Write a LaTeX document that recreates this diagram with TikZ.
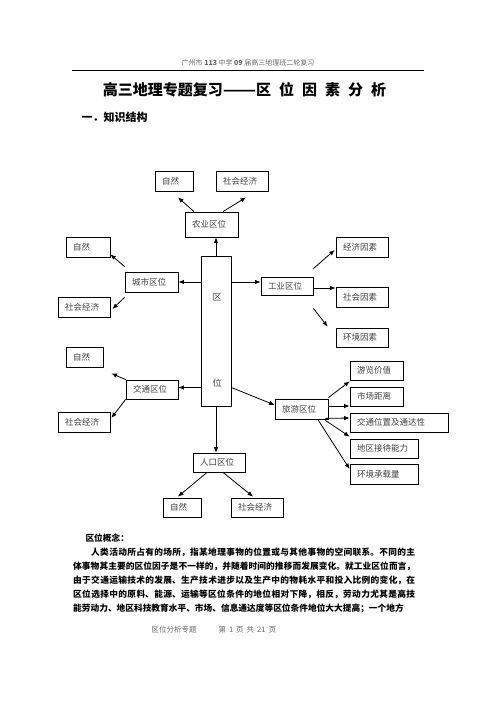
\documentclass[tikz,border=0pt]{standalone}
\usepackage{fontspec}
\setmainfont{Noto Sans CJK SC}
\usetikzlibrary{arrows.meta}

\begin{document}
\begin{tikzpicture}[x=1pt,y=-1pt,>={Latex[length=5.5pt,width=4.5pt]},
  box/.style={draw,line width=0.8pt,inner ysep=0pt,inner xsep=7pt,align=left,
    font=\fontsize{8.5}{10}\selectfont,text=black!75},
  arr/.style={->,line width=0.8pt}]
\useasboundingbox (0,0) rectangle (496,702);
% page head
\node[font=\fontsize{7}{8}\selectfont,text=black!60] (header) at (248,63) {广州市 {\bfseries 113} 中学 {\bfseries 09} 届高三地理班二轮复习};
\draw[line width=0.9pt] (72,70) -- (424,70);
\node[font=\bfseries\fontsize{15}{18}\selectfont] (title) at (244.5,90) {高三地理专题复习\scalebox{1.3}[1]{——}区\hspace{8pt}位\hspace{8pt}因\hspace{8pt}素\hspace{8pt}分\hspace{8pt}析};
\node[anchor=west,font=\bfseries\fontsize{11}{13}\selectfont] (section) at (78,117) {一．知识结构};

% centre box
\node[draw,line width=0.8pt,minimum width=30pt,minimum height=150pt,inner sep=0pt] (quwei) at (216,331) {};
\node[font=\fontsize{9}{10}\selectfont,text=black!75] (quzi) at (217,297) {区};
\node[font=\fontsize{9}{10}\selectfont,text=black!75] (weizi) at (217,383) {位};

% agriculture
\node[box,text width=39pt,minimum height=25pt] (nongye) at (211.5,224.5) {农业区位};
\node[box,text width=24pt,minimum height=20pt] (ziran1) at (174,181) {自然};
\node[box,text width=38pt,minimum height=20pt] (shehui1) at (242,181) {社会经济};
% city
\node[box,text width=39pt,minimum height=20pt] (chengshi) at (151.5,282) {城市区位};
\node[box,text width=30pt,minimum height=20pt] (ziran2) at (88,247) {自然};
\node[box,text width=38pt,minimum height=20pt] (shehui2) at (84,307) {社会经济};
% industry
\node[box,text width=38pt,minimum height=18pt] (gongye) at (287,286) {工业区位};
\node[box,text width=38pt,minimum height=20pt] (jingji) at (362,247) {经济因素};
\node[box,text width=38pt,minimum height=20pt] (shehuiys) at (362,297) {社会因素};
\node[box,text width=38pt,minimum height=19pt] (huanjing) at (362,337.5) {环境因素};
% traffic
\node[box,text width=38pt,minimum height=19pt] (jiaotong) at (152,389.5) {交通区位};
\node[box,text width=23pt,minimum height=20pt] (ziran3) at (84.5,357) {自然};
\node[box,text width=38pt,minimum height=20pt] (shehui3) at (84,422) {社会经济};
% population
\node[box,text width=38pt,minimum height=19pt] (renkou) at (219,462.5) {人口区位};
\node[box,text width=24pt,minimum height=19pt] (ziran4) at (182,507.5) {自然};
\node[box,text width=38pt,minimum height=19pt] (shehui4) at (257,507.5) {社会经济};
% tourism
\node[box,text width=39pt,minimum height=20pt] (lvyou) at (301.5,409) {旅游区位};
\node[box,text width=39pt,minimum height=19pt] (youlan) at (376.5,370.5) {游览价值};
\node[box,text width=39pt,minimum height=19pt] (shichang) at (376.5,396.5) {市场距离};
\node[box,text width=84pt,minimum height=19pt] (jtwz) at (399,422.5) {交通位置及通达性};
\node[box,text width=54pt,minimum height=19pt] (jiedai) at (384,448.5) {地区接待能力};
\node[box,text width=54pt,minimum height=20pt] (chengzai) at (384,474) {环境承载量};

% arrows
\draw[arr] (quwei.north) -- (quwei.north |- nongye.south);
\draw[arr] ([xshift=-17.5pt]nongye.north) -- ([xshift=4pt,yshift=-6pt]ziran1.south);
\draw[arr] ([xshift=11.5pt]nongye.north) -- ([xshift=4pt,yshift=-6pt]shehui1.south);
\draw[arr] (quwei.west |- chengshi.east) -- (chengshi.east);
\draw[arr] ([yshift=5pt]chengshi.north west) -- ([yshift=3pt]ziran2.south east);
\draw[arr] ([yshift=-5pt]chengshi.south west) -- ([xshift=2pt,yshift=-2pt]shehui2.east);
\draw[arr] (quwei.east |- chengshi.east) -- (gongye.west |- chengshi.east);
\draw[arr] ([yshift=8pt]gongye.north east) -- ([xshift=-1pt,yshift=-3pt]jingji.west);
\draw[arr] ([yshift=-2pt]gongye.east) -- ([yshift=-2pt]gongye.east -| shehuiys.west);
\draw[arr] ([yshift=-13pt]gongye.south east) -- ([xshift=-8pt,yshift=1pt]huanjing.north west);
\draw[arr] ([yshift=2pt]jiaotong.east -| quwei.west) -- ([yshift=2pt]jiaotong.east);
\draw[arr] (jiaotong.north west) -- ([xshift=8pt,yshift=-6pt]ziran3.south east);
\draw[arr] (jiaotong.south west) -- ([xshift=1pt,yshift=4pt]shehui3.east);
\draw[arr] (quwei.south) -- (quwei.south |- renkou.north);
\draw[arr] ([xshift=-12pt]renkou.south) -- ([xshift=-4pt,yshift=1pt]ziran4.north);
\draw[arr] ([xshift=4pt]renkou.south) -- ([xshift=-4pt,yshift=1pt]shehui4.north);
\draw[arr] ([yshift=2pt]jiaotong.east -| quwei.east) -- ([yshift=4pt]lvyou.west);
\draw[arr] ([yshift=1pt]lvyou.north east) -- ([yshift=-1pt]youlan.south west);
\draw[arr] ([yshift=3pt]lvyou.east) -- ([yshift=3pt]lvyou.east -| shichang.west);
\draw[arr] ([xshift=-3pt,yshift=1pt]lvyou.south east) -- ([yshift=4.5pt]jtwz.west);
\draw[arr] ([xshift=-3pt,yshift=-1pt]lvyou.south east) -- ([yshift=2pt]jiedai.north west);
\draw[arr] ([xshift=-10pt,yshift=-1pt]lvyou.south east) -- ([yshift=5pt]chengzai.west);

% text below
\node[anchor=west,font=\bfseries\fontsize{8.7}{10}\selectfont] (gainian) at (82,538) {区位概念：};
\node[anchor=north west,inner sep=0pt,text width=342pt,align=justify,
  font=\bfseries\fontsize{8.7}{14}\selectfont] (para) at (73,548) {\XeTeXlinebreaklocale "zh"\XeTeXlinebreakskip=0pt plus 1pt minus 0.2pt\parfillskip=0pt\hspace*{18pt}人类活动所占有的场所，指某地理事物的位置或与其他事物的空间联系。不同的主\linebreak 体事物其主要的区位因子是不一样的，并随着时间的推移而发展变化。就工业区位而言，\linebreak 由于交通运输技术的发展、生产技术进步以及生产中的物耗水平和投入比例的变化，在\linebreak 区位选择中的原料、能源、运输等区位条件的地位相对下降，相反，劳动力尤其是高技\linebreak 能劳动力、地区科技教育水平、市场、信息通达度等区位条件地位大大提高；一个地方};
\node[anchor=west,font=\fontsize{7.5}{9}\selectfont,text=black!60] (footer) at (148,630) {区位分析专题\hspace{22pt}第\hspace{3pt}1\hspace{3pt}页\hspace{3pt}共\hspace{3pt}21\hspace{3pt}页};
\end{tikzpicture}
\end{document}
